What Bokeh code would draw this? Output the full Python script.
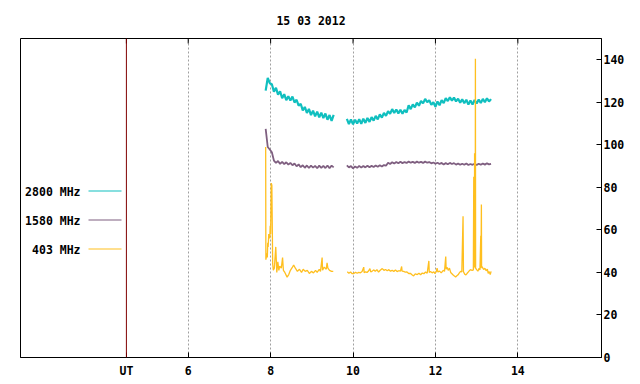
from bokeh.plotting import figure
from bokeh.models import Range1d, FixedTicker, Span, Label, BoxAnnotation
from bokeh.embed import file_html
from bokeh.resources import INLINE

TITLE = "15 03 2012"
UT_HOUR = 4.5
X_TICKS = [4.5, 6, 8, 10, 12, 14]
X_TICK_LABELS = {4.5: "UT"}
GRID_HOURS = [6, 8, 10, 12, 14]
Y_TICKS = [0, 20, 40, 60, 80, 100, 120, 140]
X_MIN, X_MAX = 1.93, 16.03
Y_MIN, Y_MAX = 0, 150
SERIES_NAMES = ["2800 MHz", "1580 MHz", "403 MHz"]

# --- 2800 / 1580 MHz: two observing segments (UT hours) ---
hours_a = [7.88, 7.93, 7.98, 8.03, 8.08, 8.13, 8.18, 8.23, 8.28, 8.33, 8.38, 8.43,
           8.48, 8.53, 8.58, 8.63, 8.68, 8.73, 8.78, 8.83, 8.88, 8.93, 8.98, 9.03,
           9.08, 9.13, 9.18, 9.23, 9.28, 9.33, 9.38, 9.43, 9.48, 9.53]
hours_b = [9.85, 9.90, 9.95, 10.00, 10.05, 10.10, 10.15, 10.20, 10.25, 10.30, 10.35,
           10.40, 10.45, 10.50, 10.55, 10.60, 10.65, 10.70, 10.75, 10.80, 10.85, 10.90,
           10.95, 11.00, 11.05, 11.10, 11.15, 11.20, 11.25, 11.30, 11.35, 11.40, 11.45,
           11.50, 11.55, 11.60, 11.65, 11.70, 11.75, 11.80, 11.85, 11.90, 11.95, 12.00,
           12.05, 12.10, 12.15, 12.20, 12.25, 12.30, 12.35, 12.40, 12.45, 12.50, 12.55,
           12.60, 12.65, 12.70, 12.75, 12.80, 12.85, 12.90, 12.95, 13.00, 13.05, 13.10,
           13.15, 13.20, 13.25, 13.30, 13.35]

mhz2800_a = [125.5, 131.5, 129.0, 128.5, 125.0, 126.8, 123.6, 125.2, 121.9, 123.8,
             121.0, 122.9, 120.8, 122.7, 119.9, 121.2, 118.4, 119.3, 116.2, 117.8,
             115.0, 116.9, 114.0, 116.1, 113.4, 115.6, 112.9, 115.1, 112.6, 114.7,
             111.8, 114.0, 111.3, 114.1]
mhz2800_b = [112.2, 109.8, 111.9, 109.6, 111.8, 110.0, 112.1, 109.9, 112.3, 110.3,
             112.6, 110.8, 113.0, 111.4, 113.6, 112.0, 114.3, 112.8, 115.0, 113.6,
             115.8, 114.6, 116.8, 115.0, 116.6, 114.8, 116.5, 114.6, 116.4, 115.2,
             118.6, 116.8, 119.0, 117.6, 119.8, 118.4, 120.6, 119.5, 121.6, 120.0,
             121.0, 118.8, 120.0, 117.9, 120.4, 118.6, 121.0, 119.6, 122.0, 120.6,
             122.4, 120.8, 122.2, 120.4, 121.7, 119.8, 121.4, 119.6, 121.2, 118.9,
             120.9, 119.0, 121.1, 119.4, 121.3, 119.7, 121.6, 120.0, 121.9, 120.4,
             121.5]

mhz1580_a = [107.5, 99.0, 97.8, 96.5, 92.6, 91.5, 92.4, 91.0, 92.0, 90.9, 91.8, 90.7,
             91.5, 90.4, 91.2, 89.9, 90.8, 89.5, 90.4, 89.2, 90.3, 89.1, 90.2, 89.3,
             90.1, 89.0, 90.2, 89.2, 90.1, 89.1, 90.3, 89.0, 90.2, 89.4]
mhz1580_b = [90.3, 89.4, 90.0, 88.9, 89.8, 89.2, 90.1, 89.3, 90.0, 89.4, 90.2, 89.5,
             90.1, 89.6, 90.3, 89.7, 90.4, 89.8, 90.5, 90.2, 91.6, 91.0, 91.8, 91.2,
             91.9, 91.3, 92.0, 91.4, 91.9, 91.5, 92.1, 91.6, 92.0, 91.5, 92.1, 91.6,
             92.0, 91.5, 92.1, 91.6, 91.9, 91.3, 91.7, 91.1, 91.6, 91.0, 91.5, 90.8,
             91.4, 90.9, 91.5, 91.0, 91.4, 90.7, 91.2, 90.6, 91.1, 90.6, 91.2, 90.5,
             91.0, 90.6, 91.1, 90.5, 91.1, 90.6, 91.2, 90.7, 91.3, 90.8, 91.0]

# --- 403 MHz (spiky) ---
hours403_a = [7.88, 7.885, 7.91, 7.92, 7.93, 7.94, 7.955, 7.98, 7.99, 8.00, 8.015,
              8.03, 8.05, 8.065, 8.09, 8.125, 8.15, 8.175, 8.20, 8.22, 8.26, 8.29,
              8.31, 8.345, 8.40, 8.44, 8.48, 8.53, 8.56, 8.60, 8.65, 8.70, 8.75, 8.79,
              8.84, 8.89, 8.94, 8.99, 9.04, 9.09, 9.13, 9.18, 9.21, 9.25, 9.26, 9.30,
              9.35, 9.37, 9.39, 9.43, 9.48, 9.52]
mhz403_a = [99.0, 46.0, 49.0, 47.0, 54.0, 52.0, 58.0, 56.0, 62.0, 58.0, 82.0,
            81.0, 44.0, 41.0, 42.0, 52.0, 40.0, 45.0, 41.0, 43.0, 42.0, 47.0,
            41.0, 40.0, 37.8, 39.0, 41.0, 42.5, 43.5, 42.0, 40.5, 41.5, 40.0, 41.5,
            40.5, 41.0, 39.5, 40.5, 39.8, 41.0, 40.0, 41.5, 40.5, 47.0, 41.0, 42.5,
            41.5, 44.5, 42.0, 41.0, 40.5, 40.5]
hours403_b = [9.86, 9.90, 9.94, 9.98, 10.02, 10.06, 10.10, 10.14, 10.18, 10.22, 10.26,
              10.27, 10.30, 10.34, 10.38, 10.41, 10.43, 10.46, 10.50, 10.54, 10.58,
              10.62, 10.66, 10.71, 10.75, 10.79, 10.83, 10.87, 10.91, 10.95, 10.99,
              11.03, 11.07, 11.11, 11.15, 11.18, 11.19, 11.23, 11.27, 11.31, 11.35,
              11.39, 11.43, 11.47, 11.51, 11.56, 11.60, 11.64, 11.68, 11.72, 11.76,
              11.80, 11.84, 11.85, 11.88, 11.92, 11.96, 11.99, 12.02, 12.04, 12.06,
              12.10, 12.14, 12.19, 12.22, 12.25, 12.26, 12.28, 12.31, 12.34, 12.37,
              12.40, 12.43, 12.46, 12.49, 12.52, 12.55, 12.58, 12.61, 12.64, 12.67,
              12.68, 12.71, 12.74, 12.77, 12.80, 12.83, 12.86, 12.89, 12.92, 12.93,
              12.935, 12.94, 12.945, 12.95, 12.955, 12.96, 12.965, 12.97, 12.975,
              13.00, 13.03, 13.06, 13.08, 13.10, 13.105, 13.115, 13.12, 13.14, 13.17,
              13.20, 13.23, 13.26, 13.28, 13.30, 13.33, 13.35]
mhz403_b = [40.3, 39.6, 40.2, 39.4, 39.5, 40.1, 39.6, 40.0, 39.8, 40.4, 42.5,
            39.9, 40.3, 40.0, 40.8, 41.8, 40.3, 40.5, 41.2, 40.6, 41.3,
            40.2, 41.0, 41.8, 41.0, 41.4, 40.8, 41.3, 40.6, 41.0, 40.5,
            41.1, 40.4, 40.8, 40.6, 42.8, 40.6, 40.5, 40.1, 40.2, 39.5,
            39.6, 38.9, 38.4, 39.3, 39.0, 39.6, 38.9, 39.7, 39.4, 40.2,
            39.6, 45.4, 40.0, 40.4, 39.8, 40.3, 39.5, 40.4, 42.0, 40.2,
            40.6, 39.8, 41.0, 40.5, 47.5, 41.5, 42.5, 41.0, 42.0, 40.0,
            39.4, 38.8, 38.3, 37.9, 38.4, 38.9, 39.8, 40.5, 40.2, 66.4,
            40.3, 39.2, 38.8, 39.6, 40.3, 41.0, 41.3, 40.9, 41.2, 85.0,
            42.0, 84.5, 43.0, 96.0, 42.5, 95.5, 43.0, 140.5, 42.0,
            41.3, 40.6, 42.0, 41.2, 57.2, 42.0, 72.0, 43.0, 42.4, 41.4,
            42.0, 40.8, 41.5, 39.5, 40.5, 39.0, 40.5]

NAN = float("nan")
hours = hours_a + [NAN] + hours_b
mhz2800 = mhz2800_a + [NAN] + mhz2800_b
mhz1580 = mhz1580_a + [NAN] + mhz1580_b
hours403 = hours403_a + [NAN] + hours403_b
mhz403 = mhz403_a + [NAN] + mhz403_b

FONT = "DejaVu Sans Mono"
FS = "11.5px"
COLORS = ["#10bfbf", "#7f5f80", "#ffbf1f"]

p = figure(width=640, height=384, x_range=Range1d(X_MIN, X_MAX),
           y_range=Range1d(Y_MIN, Y_MAX),
           output_backend="svg", toolbar_location=None, y_axis_location="right",
           min_border_left=20, min_border_right=39, min_border_top=38,
           min_border_bottom=27, title=TITLE)
p.background_fill_color = "white"
p.border_fill_color = "white"
p.outline_line_color = "black"
p.outline_line_width = 1

p.title.align = "center"
p.title.standoff = 21
p.title.text_font = FONT
p.title.text_font_size = FS
p.title.text_font_style = "bold"
p.title.text_color = "black"

def style_axis(ax):
    ax.major_tick_in = 5
    ax.major_tick_out = 0
    ax.minor_tick_line_color = None
    ax.axis_line_color = "black"
    ax.major_tick_line_color = "black"
    ax.major_label_text_font = FONT
    ax.major_label_text_font_style = "bold"
    ax.major_label_text_color = "black"
    ax.major_label_text_font_size = FS

xa = p.xaxis[0]
xa.ticker = FixedTicker(ticks=X_TICKS)
xa.major_label_overrides = X_TICK_LABELS
style_axis(xa)
xa.major_label_standoff = 6

ya = p.yaxis[0]
ya.ticker = FixedTicker(ticks=Y_TICKS)
style_axis(ya)
ya.major_label_standoff = 2

# mirrored tick marks along the top edge (half of each mark is clipped by the frame)
p.rect(x=X_TICKS, y=[Y_MAX] * len(X_TICKS), width=1, height=10,
       width_units="screen", height_units="screen", fill_color="black",
       line_color=None)

p.ygrid.visible = False
p.xgrid.ticker = FixedTicker(ticks=GRID_HOURS)
p.xgrid.grid_line_color = "#a0a0a0"
p.xgrid.grid_line_dash = "2 2"
p.xgrid.grid_line_width = 1

p.add_layout(Span(location=UT_HOUR, dimension="height", line_color="#800000", line_width=1))

p.line(hours, mhz2800, line_color=COLORS[0], line_width=2.2)
p.line(hours, mhz1580, line_color=COLORS[1], line_width=1.8)
p.line(hours403, mhz403, line_color=COLORS[2], line_width=1.3)

# key: label text on the left, sample line on the right
for i, (name, col) in enumerate(zip(SERIES_NAMES, COLORS)):
    yc = 166 - 29 * i
    p.add_layout(Label(x=60, y=yc, x_units="screen", y_units="screen",
                       text=name, text_align="right", text_baseline="middle",
                       text_font=FONT, text_font_size=FS, text_font_style="bold",
                       text_color="black"))
    p.add_layout(BoxAnnotation(left=68, right=101, bottom=yc, top=yc + 1,
                               left_units="screen", right_units="screen",
                               bottom_units="screen", top_units="screen",
                               fill_color=col, fill_alpha=1, line_color=None))

open("out.html", "w").write(file_html(p, INLINE))
